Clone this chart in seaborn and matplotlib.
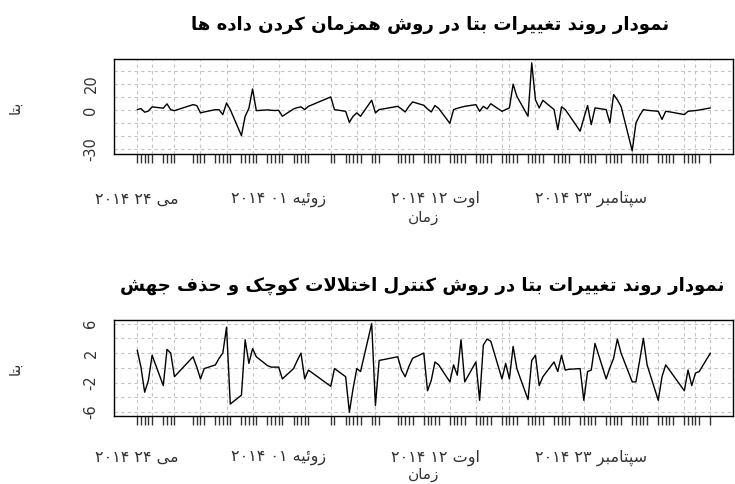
import numpy as np
import pandas as pd
import matplotlib
matplotlib.use("Agg")
import matplotlib.pyplot as plt
import seaborn as sns

# ---------------- data ----------------
start_date = "2014-05-24"
day_offsets = [0, 1, 2, 3, 4, 7, 8, 9, 10, 15, 16, 17, 18, 21, 22, 23, 24, 25,
               28, 29, 30, 31, 32, 35, 36, 37, 38, 39, 42, 43, 44, 45, 46, 52, 53,
               56, 57, 58, 59, 60, 63, 64, 65, 70, 71, 72, 73, 74, 77, 78, 79, 80, 81,
               84, 85, 86, 87, 88, 91, 92, 93, 94, 95, 98, 99, 100, 101, 102,
               105, 106, 107, 108, 109, 112, 113, 114, 115, 116, 119, 120, 121, 122, 123,
               126, 127, 128, 129, 130, 133, 134, 135, 136, 137, 140, 141, 142, 143, 144,
               147, 148, 149, 150, 151, 154]

beta_sync = [0.5, 1.3, -1.5, -0.6, 2.6, 1.6, 4.9, 0.4, -0.3, 4.3, 3.6, -2.0, -1.3, 0.5, 0.4, -3.3, 5.6, 0.5,
             -19.4, -4.6, 1.5, 16.3, -0.3, 0.3, 0.0, -0.2, 0.0, -4.6, 1.0, 2.0, 2.6, 0.5, 3.0, 10.2, 0.5,
             -0.8, -9.2, -4.6, -2.0, -4.6, 7.7, -2.0, 0.5, 3.0, 1.0, -1.3, 3.0, 6.4, 3.8, 1.0, -1.3, 3.6, 1.4,
             -10.0, 0.5, 1.5, 2.3, 3.0, 4.3, -0.8, 3.0, 1.0, 5.0, -0.8, 0.5, 1.8, 20.0, 10.7,
             -4.6, 36.3, 8.0, 1.8, 7.6, 0.5, -14.8, 2.6, 0.5, -3.5, -16.0, -6.0, 3.6, -11.0, 1.8,
             0.5, -9.7, 12.0, 8.0, 3.0, -31.0, -9.7, -4.0, 0.5, 0.0, -0.8, -7.0, -0.8, -1.2, -1.7,
             -3.3, -0.8, -0.5, -0.2, 0.2, 1.8]

beta_ctrl = [2.4, 0.1, -3.3, -1.7, 1.7, -2.4, 2.5, 2.0, -1.2, 1.5, 0.1, -1.5, -0.1, 0.4, 1.3, 2.0, 5.5, -4.9,
             -3.7, 3.8, 0.6, 2.6, 1.5, 0.3, 0.1, 0.1, 0.1, -1.5, -0.1, 1.0, 2.0, -1.5, -0.3, -2.5, -0.1,
             -1.2, -6.0, -2.8, -0.1, -0.5, 6.0, -5.1, 1.0, 1.5, -0.3, -1.2, 0.2, 1.3, 2.0, -3.1, -1.7, 0.8, 0.4,
             -1.9, 0.4, -1.0, 3.8, -1.9, 0.8, -4.4, 3.1, 3.9, 3.6, -1.5, 0.6, -1.5, 2.9, -0.1,
             -4.3, 1.0, 1.7, -2.4, -1.2, 0.8, -0.5, 1.7, -0.3, -0.2, -0.1, -4.4, -0.5, -0.3, 3.3,
             -1.5, 0.0, 1.3, 3.9, 2.0, -1.9, -1.9, 1.0, 4.0, 0.4, -4.4, -1.2, 0.4, -0.3, -1.0,
             -3.1, -0.3, -2.4, -0.7, -0.5, 2.0]

grid_offsets = [0, 4, 10, 17, 24, 31, 38, 45, 52, 59, 64, 70, 77, 84, 91, 98, 100,
                107, 114, 120, 127, 133, 140, 147, 150, 154]

sync_ticks = [-30, -20, -10, 0, 10, 20, 30]
sync_tick_labels = ["-30", "", "", "0", "", "20", ""]
ctrl_ticks = [-6, -4, -2, 0, 2, 4, 6]
ctrl_tick_labels = ["-6", "", "-2", "", "2", "", "6"]

date_label_offsets = [0, 38, 80, 122]
date_labels = ["می ۲۴ ۲۰۱۴", "زوئیه ۰۱ ۲۰۱۴", "اوت ۱۲ ۲۰۱۴", "سپتامبر ۲۳ ۲۰۱۴"]

title_sync = "نمودار روند تغییرات بتا در روش همزمان کردن داده ها"
title_ctrl = "نمودار روند تغییرات بتا در روش کنترل اختلالات کوچک و حذف جهش"
y_title = "بتا"
x_title = "زمان"

# ------------- Persian shaping (visual order, presentation forms) -------------
FORMS = {
    'ا': (0xFE8D, 0xFE8E, None, None), 'آ': (0xFE81, 0xFE82, None, None),
    'ب': (0xFE8F, 0xFE90, 0xFE91, 0xFE92), 'پ': (0xFB56, 0xFB57, 0xFB58, 0xFB59),
    'ت': (0xFE95, 0xFE96, 0xFE97, 0xFE98), 'ج': (0xFE9D, 0xFE9E, 0xFE9F, 0xFEA0),
    'چ': (0xFB7A, 0xFB7B, 0xFB7C, 0xFB7D), 'ح': (0xFEA1, 0xFEA2, 0xFEA3, 0xFEA4),
    'خ': (0xFEA5, 0xFEA6, 0xFEA7, 0xFEA8), 'د': (0xFEA9, 0xFEAA, None, None),
    'ذ': (0xFEAB, 0xFEAC, None, None), 'ر': (0xFEAD, 0xFEAE, None, None),
    'ز': (0xFEAF, 0xFEB0, None, None), 'ژ': (0xFB8A, 0xFB8B, None, None),
    'س': (0xFEB1, 0xFEB2, 0xFEB3, 0xFEB4), 'ش': (0xFEB5, 0xFEB6, 0xFEB7, 0xFEB8),
    'غ': (0xFECD, 0xFECE, 0xFECF, 0xFED0), 'ف': (0xFED1, 0xFED2, 0xFED3, 0xFED4),
    'ک': (0xFB8E, 0xFB8F, 0xFB90, 0xFB91), 'ل': (0xFEDD, 0xFEDE, 0xFEDF, 0xFEE0),
    'م': (0xFEE1, 0xFEE2, 0xFEE3, 0xFEE4), 'ن': (0xFEE5, 0xFEE6, 0xFEE7, 0xFEE8),
    'ه': (0xFEE9, 0xFEEA, 0xFEEB, 0xFEEC), 'و': (0xFEED, 0xFEEE, None, None),
    'ی': (0xFBFC, 0xFBFD, 0xFBFE, 0xFBFF), 'ئ': (0xFE89, 0xFE8A, 0xFE8B, 0xFE8C),
}
LAM_ALEF = (0xFEFB, 0xFEFC)


def shape_word(word):
    units, i = [], 0
    while i < len(word):
        if word[i] == 'ل' and i + 1 < len(word) and word[i + 1] == 'ا':
            units.append('LA'); i += 2
        else:
            units.append(word[i]); i += 1

    def dual(u):
        return u != 'LA' and u in FORMS and FORMS[u][2] is not None

    def joins(u):
        return u == 'LA' or u in FORMS

    out = []
    for k, u in enumerate(units):
        prev = units[k - 1] if k > 0 else None
        nxt = units[k + 1] if k + 1 < len(units) else None
        cp = prev is not None and dual(prev)
        if u == 'LA':
            out.append(chr(LAM_ALEF[1] if cp else LAM_ALEF[0]))
            continue
        if u not in FORMS:
            out.append(u)
            continue
        cn = dual(u) and nxt is not None and joins(nxt)
        iso, fin, ini, med = FORMS[u]
        out.append(chr(med if (cp and cn) else fin if cp else ini if cn else iso))
    return ''.join(reversed(out))


def visual(text):
    toks = []
    for t in text.split(' '):
        if all(ch.isdigit() for ch in t):
            toks.append(t)
        else:
            toks.append(shape_word(t))
    return ' '.join(reversed(toks))


# ---------------- figure ----------------
sns.set_theme(style="white")
plt.rcParams['font.family'] = ['DejaVu Sans']

W, H = 735, 484
fig = plt.figure(figsize=(W / 100, H / 100), dpi=100)
fig.patch.set_facecolor("white")

start = pd.Timestamp(start_date)
dates = [start + pd.Timedelta(days=d) for d in day_offsets]
grid_dates = [start + pd.Timedelta(days=d) for d in grid_offsets]
span = max(day_offsets) - min(day_offsets)
pad = pd.Timedelta(days=span * 0.04)


def px_axes(l, t, r, b):
    return fig.add_axes([l / W, 1 - b / H, (r - l) / W, (b - t) / H])


def draw_panel(ax, values, ticks, tick_labels, title, top_px, bottom_px, title_x_px,
               date_px, xlab_px):
    df = pd.DataFrame({"date": dates, "beta": values})
    ax.grid(True, color="#c4c4c4", ls=(0, (3, 3)), lw=0.8)
    ax.set_axisbelow(True)
    sns.lineplot(data=df, x="date", y="beta", ax=ax, color="black", lw=1.0)
    sns.rugplot(data=df, x="date", ax=ax, height=-0.095, clip_on=False,
                color="#333333", lw=0.9)
    ax.set_xlim(start + pd.Timedelta(days=min(day_offsets)) - pad,
                start + pd.Timedelta(days=max(day_offsets)) + pad)
    lo, hi = min(values), max(values)
    r = hi - lo
    ax.set_ylim(lo - 0.04 * r, hi + 0.04 * r)
    ax.set_xticks(grid_dates)
    ax.set_xticklabels([])
    ax.tick_params(axis='x', length=6.5, width=1, color="black", direction="out")
    ax.set_yticks(ticks)
    ax.set_yticklabels(tick_labels, rotation=90, va="center")
    ax.tick_params(axis='y', length=9.4, width=1, color="black", direction="out",
                   pad=2, labelsize=10.5, labelcolor="#333333")
    ax.set_xlabel("")
    ax.set_ylabel("")
    for s in ax.spines.values():
        s.set_visible(True)
        s.set_color("black")
        s.set_linewidth(1.0)
    h = bottom_px - top_px
    trans = ax.get_xaxis_transform()
    for off, lab in zip(date_label_offsets, date_labels):
        ax.text(start + pd.Timedelta(days=off), -(date_px / h), visual(lab), transform=trans,
                ha="center", va="center", fontsize=11.5, color="#333333")
    ax.text(0.5, -(xlab_px / h), visual(x_title), transform=ax.transAxes, ha="center",
            va="center", fontsize=11, color="#333333")
    fig.text(title_x_px / W, 1 - (top_px - 34) / H, visual(title), ha="center", va="center",
             fontsize=13.1, fontweight="bold", color="black")
    fig.text(15 / W, 1 - (top_px + 48) / H, visual(y_title), rotation=90,
             ha="center", va="center", fontsize=11, color="#333333")


ax1 = px_axes(114.3, 59.3, 733.3, 154.3)
ax2 = px_axes(114.3, 320.0, 733.3, 415.7)
draw_panel(ax1, beta_sync, sync_ticks, sync_tick_labels, title_sync, 59.3, 154.3, 430, 45, 63)
draw_panel(ax2, beta_ctrl, ctrl_ticks, ctrl_tick_labels, title_ctrl, 320.0, 415.7, 422, 42, 58.5)

fig.savefig("out.png", dpi=100, facecolor="white")
